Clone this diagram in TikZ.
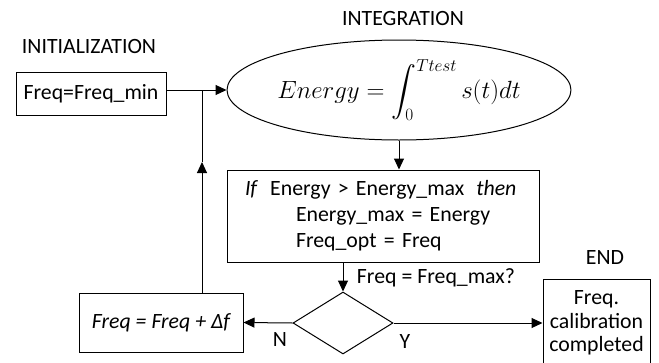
\documentclass[tikz,border=0pt]{standalone}
\usepackage{fontspec}
\setmainfont{Carlito}
\usepackage{amsmath}
\usetikzlibrary{arrows.meta,positioning,shapes.geometric,calc}

\begin{document}
\begin{tikzpicture}[
    x=1pt, y=-1pt,
    font=\fontsize{21.8}{26}\selectfont,
    box/.style={draw, line width=1pt, inner sep=0pt},
    arr/.style={-{Triangle[length=11pt, width=10pt]}, line width=1pt},
    lab/.style={inner sep=0pt},
    >=Triangle
]
  \useasboundingbox (0,0) rectangle (659,362);

  % start and integration
  \node[lab] (initlab) at (89,46) {INITIALIZATION};
  \node[box, minimum width=150pt, minimum height=43pt] (init) at (91,93.5) {Freq=Freq\_min};
  \node[lab] (integlab) at (403,18) {INTEGRATION};
  \node[box, ellipse, minimum width=304pt, minimum height=100pt, font=\fontsize{25}{30}\selectfont] (integ) at (399,90) {$\displaystyle Energy = \int_0^{Ttest} s(t)dt$};
  \coordinate (join) at (202,90);

  \draw[arr] (init.east |- integ.west) -- (integ.west);

  % update of the maximum
  \node[box, minimum width=312pt, minimum height=92pt, text width=312pt, align=left] (upd) at (383,216)
    {\hspace*{18pt}\textit{If}\hspace{0.55em}Energy > Energy\_max\hspace{0.55em}\textit{then}\\
     \hspace*{69pt}Energy\_max = Energy\\
     \hspace*{69pt}Freq\_opt = Freq};
  \draw[arr] (integ.south) -- (integ.south |- upd.north);

  % decision
  \node[box, diamond, minimum width=100pt, minimum height=62pt] (check) at (343,323) {};
  \node[lab] (checklab) at (436,278) {Freq = Freq\_max?};
  \draw[arr] (upd.south -| check.north) -- (check.north);

  % end
  \node[lab] (endlab) at (605,258) {END};
  \node[box, minimum width=107pt, minimum height=88pt, align=center, font=\fontsize{21.8}{23.5}\selectfont] (done) at (596.5,323) {Freq.\\calibration\\completed};
  \draw[arr] (check.east) -- (done.west);
  \node[lab] (ylab) at (405,342) {Y};

  % next frequency
  \node[box, minimum width=164pt, minimum height=59pt, font=\fontsize{21.8}{26}\selectfont\itshape] (inc) at (161,322.5) {Freq = Freq + Δf};
  \draw[arr] (check.west) -- (inc.east);
  \node[lab] (nlab) at (280,340) {N};

  % loop back
  \coordinate (loopmid) at (202,162);
  \draw[arr] (inc.north -| join) -- (loopmid);
  \draw[line width=1pt] (loopmid) -- (join);
\end{tikzpicture}
\end{document}
